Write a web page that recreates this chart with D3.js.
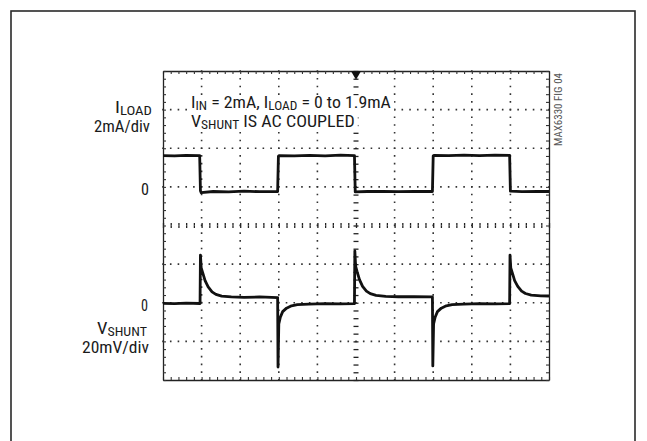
<!DOCTYPE html>
<html><head><meta charset="utf-8">
<script src="https://cdn.jsdelivr.net/npm/d3@7"></script>
<style>
html,body{margin:0;padding:0;background:#fff;}
svg{display:block;}
text{font-family:"Liberation Sans Narrow","Roboto Condensed","Arial Narrow","Liberation Sans",Arial,sans-serif;}
</style></head>
<body><svg id="c" width="647" height="441"></svg>
<script>
// ---------- data ----------
const gridDivX = [0,1,2,3,4,5,6,7,8,9,10];
const gridDivY = [-4,-3,-2,-1,0,1,2,3,4];
const minorDivX = [0,0.2,0.4,0.6,0.8,1,1.2,1.4,1.6,1.8,2,2.2,2.4,2.6,2.8,3,3.2,3.4,3.6,3.8,4,4.2,4.4,4.6,4.8,5,5.2,5.4,5.6,5.8,6,6.2,6.4,6.6,6.8,7,7.2,7.4,7.6,7.8,8,8.2,8.4,8.6,8.8,9,9.2,9.4,9.6,9.8,10];
const minorDivY = [-4,-3.8,-3.6,-3.4,-3.2,-3,-2.8,-2.6,-2.4,-2.2,-2,-1.8,-1.6,-1.4,-1.2,-1,-0.8,-0.6,-0.4,-0.2,0,0.2,0.4,0.6,0.8,1,1.2,1.4,1.6,1.8,2,2.2,2.4,2.6,2.8,3,3.2,3.4,3.6,3.8,4];

// I_LOAD trace: time (div) and current (mA), 2 mA/div
const iloadTime = [0,0.3,0.6,0.95,0.97,0.99,1.3,1.7,2.1,2.5,2.97,2.99,3.01,3.4,3.8,4.2,4.6,4.96,4.98,5.3,5.7,6.1,6.5,6.98,7.00,7.02,7.4,7.8,8.2,8.6,8.98,9.00,9.3,9.7,10];
const iloadMA   = [1.62,1.60,1.63,1.62,-0.20,-0.30,-0.24,-0.26,-0.22,-0.25,-0.24,1.58,1.62,1.60,1.63,1.61,1.64,1.62,-0.26,-0.24,-0.23,-0.25,-0.24,-0.24,1.60,1.63,1.62,1.64,1.62,1.64,1.63,-0.22,-0.25,-0.23,-0.24];

// V_SHUNT trace: time (div) and voltage (mV), 20 mV/div
const vshuntTime = [0,0.3,0.6,0.96,0.97,0.99,1.03,1.09,1.17,1.27,1.37,1.52,1.77,2.1,2.5,2.97,2.98,3.00,3.04,3.10,3.20,3.33,3.48,3.78,4.2,4.6,4.96,4.97,4.99,5.03,5.09,5.17,5.27,5.37,5.52,5.77,6.1,6.5,6.98,6.99,7.01,7.05,7.11,7.21,7.34,7.49,7.79,8.2,8.6,8.98,8.99,9.01,9.05,9.11,9.19,9.29,9.39,9.54,9.79,10];
const vshuntMV   = [-0.3,-0.5,-0.2,-0.4,24.7,18,15.5,11.5,8.2,5.6,4.3,3.4,3.0,2.8,3.0,2.7,-33.3,-11,-7.5,-4.6,-2.8,-1.6,-1.0,-0.7,-0.5,-0.6,-0.5,26.8,19,16,12,8.5,6,4.7,3.8,3.3,3.1,3.2,3.0,-32.7,-11,-7.5,-4.6,-2.8,-1.6,-1.0,-0.7,-0.5,-0.6,-0.5,24.7,18,15.5,11.5,8.5,6,4.8,4.0,3.6,3.5];

const zeroLabels = ["0","0"];
const figLabel = "MAX6330 FIG 04";

// ---------- layout ----------
const svg = d3.select("#c");
const X0 = 163, X1 = 549, Y0 = 71, Y1 = 380;
const x = d3.scaleLinear().domain([0,10]).range([X0,X1]);
const yDiv = d3.scaleLinear().domain([-4,4]).range([Y1,Y0]);
const yI = d3.scaleLinear().domain([-10,6]).range([Y1,Y0]);   // 2 mA/div, zero at +1 div
const yV = d3.scaleLinear().domain([-40,120]).range([Y1,Y0]); // 20 mV/div, zero at -2 div

// outer border
svg.append("rect").attr("x",11).attr("y",11).attr("width",624).attr("height",460)
  .attr("fill","none").attr("stroke","#2a2a2a").attr("stroke-width",1.6);

// dotted grid
const dash = "1.6 " + (x(0.2)-x(0)-1.6).toFixed(3);
const grid = svg.append("g").attr("stroke","#333").attr("stroke-width",1.6).attr("stroke-dasharray",dash);
grid.selectAll("line.v").data(gridDivX.filter(d=>d>0&&d<10&&d!==5)).join("line")
  .attr("x1",d=>x(d)).attr("x2",d=>x(d)).attr("y1",Y0-0.8).attr("y2",Y1);
grid.selectAll("line.h").data(gridDivY.filter(d=>d>-4&&d<4&&d!==0)).join("line")
  .attr("y1",d=>yDiv(d)).attr("y2",d=>yDiv(d)).attr("x1",X0-0.8).attr("x2",X1);

// center ruler lines (ticks only)
function ruler(g){ g.select(".domain").remove(); g.selectAll(".tick line").attr("stroke","#222").attr("stroke-width",1.3); }
const tickFmt = () => "";
svg.append("g").attr("transform",`translate(0,${yDiv(0)})`)
  .call(d3.axisBottom(x).tickValues(minorDivX).tickSize(2.5).tickFormat(tickFmt)).call(ruler);
svg.append("g").attr("transform",`translate(0,${yDiv(0)})`)
  .call(d3.axisTop(x).tickValues(minorDivX).tickSize(2.5).tickFormat(tickFmt)).call(ruler);
svg.append("g").attr("transform",`translate(${x(5)},0)`)
  .call(d3.axisLeft(yDiv).tickValues(minorDivY).tickSize(2.5).tickFormat(tickFmt)).call(ruler);
svg.append("g").attr("transform",`translate(${x(5)},0)`)
  .call(d3.axisRight(yDiv).tickValues(minorDivY).tickSize(2.5).tickFormat(tickFmt)).call(ruler);

// frame as rulers
function frame(g){ g.select(".domain").attr("stroke","#222").attr("stroke-width",1.3); g.selectAll(".tick line").attr("stroke","#333").attr("stroke-width",1.1); }
svg.append("g").attr("transform",`translate(0,${Y0})`)
  .call(d3.axisBottom(x).tickValues(minorDivX).tickSize(3).tickSizeOuter(0).tickFormat(tickFmt)).call(frame);
svg.append("g").attr("transform",`translate(0,${Y1})`)
  .call(d3.axisTop(x).tickValues(minorDivX).tickSize(3).tickSizeOuter(0).tickFormat(tickFmt)).call(frame);
svg.append("g").attr("transform",`translate(${X0},0)`)
  .call(d3.axisRight(yDiv).tickValues(minorDivY).tickSize(3).tickSizeOuter(0).tickFormat(tickFmt)).call(frame);
svg.append("g").attr("transform",`translate(${X1},0)`)
  .call(d3.axisLeft(yDiv).tickValues(minorDivY).tickSize(3).tickSizeOuter(0).tickFormat(tickFmt)).call(frame);

// trigger marker
svg.append("path").attr("d",d3.symbol(d3.symbolTriangle,42)())
  .attr("transform",`translate(${x(5)},${Y0+3}) rotate(180)`).attr("fill","#111");

// traces
const iPts = iloadTime.map((t,i)=>[t,iloadMA[i]]);
const vPts = vshuntTime.map((t,i)=>[t,vshuntMV[i]]);
svg.append("path").datum(iPts)
  .attr("d",d3.line().x(d=>x(d[0])).y(d=>yI(d[1])))
  .attr("fill","none").attr("stroke","#111").attr("stroke-width",2.8).attr("stroke-linejoin","round");
svg.append("path").datum(vPts)
  .attr("d",d3.line().x(d=>x(d[0])).y(d=>yV(d[1])))
  .attr("fill","none").attr("stroke","#111").attr("stroke-width",2.8).attr("stroke-linejoin","round");

// labels
function label(parts, left, right, base, size, mask){
  const g = svg.append("g");
  const bg = mask ? g.append("rect").attr("fill","#fff") : null;
  const t = g.append("text").attr("x",0).attr("y",0).attr("font-size",size).attr("fill","#1a1a1a");
  let sub = false;
  parts.forEach(p=>{
    const ts = t.append("tspan").text(p.t);
    if (p.sub && !sub){ ts.attr("font-size",size*0.75).attr("dy",size*0.12); sub = true; }
    else if (!p.sub && sub){ ts.attr("dy",-size*0.12); sub = false; }
  });
  const w = t.node().getComputedTextLength();
  const sx = (right-left)/w;
  g.attr("transform",`translate(${left},${base}) scale(${sx},1)`);
  if (bg){
    const b = t.node().getBBox();
    bg.attr("x",b.x-3/sx).attr("width",b.width+6/sx).attr("y",-size*0.78).attr("height",size*0.97);
  }
  return g;
}
const FS = 16;
label([{t:"I"},{t:"IN",sub:true},{t:" = 2mA, I"},{t:"LOAD",sub:true},{t:" = 0 to 1.9mA"}], 191, 391, 108, FS, true);
label([{t:"V"},{t:"SHUNT",sub:true},{t:" IS AC COUPLED"}], 191, 355, 127, FS, true);
label([{t:"I"},{t:"LOAD",sub:true}], 115, 152, 113, FS);
label([{t:"2mA/div"}], 94, 150, 132, FS);
label([{t:zeroLabels[0]}], 141, 149, yI(0)+8, FS);
label([{t:zeroLabels[1]}], 141, 148, yV(0)+8.5, FS);
label([{t:"V"},{t:"SHUNT",sub:true}], 97, 147, 334, FS);
label([{t:"20mV/div"}], 82, 149, 353, FS);

// rotated figure id
const fg = svg.append("g").attr("transform",`translate(562,${Y0+2}) rotate(-90)`);
const ft = fg.append("text").attr("font-size",10.5).attr("fill","#555").attr("text-anchor","end").text(figLabel);
const fw = ft.node().getComputedTextLength();
ft.attr("transform",`scale(${73/fw},1)`);
</script>
</body></html>
